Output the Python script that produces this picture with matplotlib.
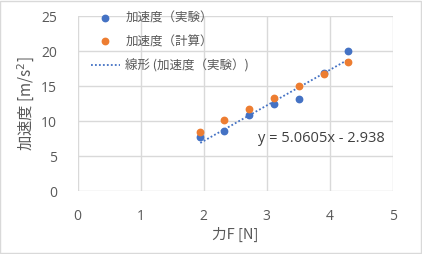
import numpy as np
import matplotlib
matplotlib.use("Agg")
import matplotlib.pyplot as plt
from matplotlib.patches import Rectangle

plt.rcParams['font.family'] = ['Noto Sans CJK JP', 'DejaVu Sans']

force = [1.946, 2.33, 2.72, 3.12, 3.51, 3.905, 4.286]
acc_exp = [7.75, 8.65, 10.9, 12.4, 13.2, 16.9, 20.0]
acc_calc = [8.4, 10.1, 11.7, 13.35, 15.0, 16.78, 18.4]
series_names = ['加速度（実験）', '加速度（計算）', '線形 (加速度（実験）)']
eq_text = 'y = 5.0605x - 2.938'
xticks = [0, 1, 2, 3, 4, 5]
yticks = [0, 5, 10, 15, 20, 25]

blue = '#4472C4'
orange = '#ED7D31'
gray = '#595959'

W, H = 422, 254
fig = plt.figure(figsize=(W/100, H/100), dpi=100)
fig.patches.append(Rectangle((0.001, 0.002), 0.997, 0.995, transform=fig.transFigure,
                             fill=False, edgecolor='#d9d9d9', linewidth=1))
ax = fig.add_axes([77.7/W, 1-191.3/H, (392.7-77.7)/W, (191.3-16)/H])

ax.plot(force, acc_exp, 'o', color=blue, markersize=4.6, label=series_names[0], zorder=3)
ax.plot(force, acc_calc, 'o', color=orange, markersize=4.6, label=series_names[1], zorder=3)
coef = np.polyfit(force, acc_exp, 1)
xs = np.array([min(force), max(force)])
ax.plot(xs, np.polyval(coef, xs), linestyle=(0, (1, 1.2)), color=blue, linewidth=1.3,
        label=series_names[2], zorder=2)

ax.text(2.86, 7.6, eq_text, fontsize=10.5, family='Open Sans', color='#404040',
        va='center', ha='left')

ax.set_xlim(0, 5)
ax.set_ylim(0, 25)
ax.set_xticks(xticks)
ax.set_yticks(yticks)
ax.grid(True, color='#d9d9d9', linewidth=1)
ax.set_axisbelow(True)
for s in ax.spines.values():
    s.set_visible(False)
ax.tick_params(length=0, labelsize=10, colors=gray, pad=15)
ax.tick_params(axis='x', pad=13)
for lab in ax.get_xticklabels() + ax.get_yticklabels():
    lab.set_family('Open Sans')
ax.set_xlabel('力F [N]', fontsize=10.5, color=gray, labelpad=2)
ax.set_ylabel('加速度 [m/s$^2$]', fontsize=11, color=gray)
ax.yaxis.set_label_coords((37 - 77.7) / 315, 0.5)

leg = ax.legend(loc='upper left', bbox_to_anchor=(91/W, 1-12/H), bbox_transform=fig.transFigure,
                frameon=False, fontsize=9, borderpad=0, borderaxespad=0,
                labelcolor=gray, handlelength=2.3, handletextpad=0.45, labelspacing=0.85)

fig.savefig('out.png', dpi=100)
